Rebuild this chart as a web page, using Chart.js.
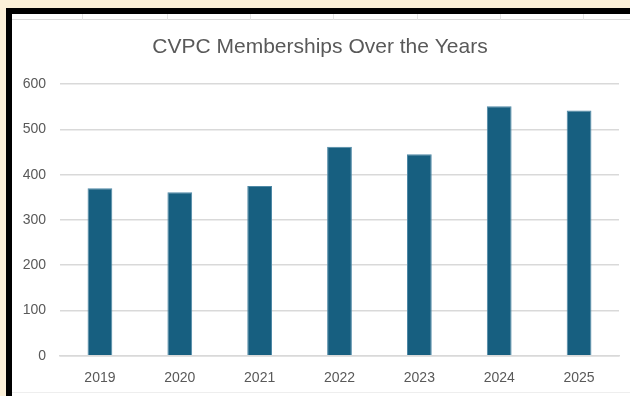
<!DOCTYPE html>
<html lang="en">
<head>
    <meta charset="UTF-8">
    <title>CVPC Memberships</title>
    <script src="https://cdn.jsdelivr.net/npm/chart.js"></script>
    <style>
        html, body {
            margin: 0;
            padding: 0;
            width: 630px;
            height: 396px;
            overflow: hidden;
            background: #fbf0d8;
        }
        .frame {
            position: absolute;
            left: 6px;
            top: 8px;
            width: 618px;
            height: 382px;
            border-left: 6px solid #000;
            border-top: 6px solid #000;
            background: #fff;
        }
        .sheet-line {
            position: absolute;
            left: 0;
            right: 0;
            top: 5px;
            height: 1px;
            background: #dcdcdc;
        }
        .sheet-col {
            position: absolute;
            top: 0;
            width: 1px;
            height: 6px;
            background: #e4e4e4;
        }
        .sheet-bottom {
            position: absolute;
            left: 0;
            right: 0;
            bottom: 3px;
            height: 1px;
            background: #eeeeee;
        }
        .graph {
            position: absolute;
            left: 0;
            top: 6px;
            width: 618px;
            height: 372px;
        }
    </style>
</head>
<body>
    <div class="frame">
        <div class="sheet-line"></div>
        <div class="sheet-col" style="left:70px"></div>
        <div class="sheet-col" style="left:155px"></div>
        <div class="sheet-col" style="left:238px"></div>
        <div class="sheet-col" style="left:321px"></div>
        <div class="sheet-col" style="left:405px"></div>
        <div class="sheet-col" style="left:488px"></div>
        <div class="sheet-col" style="left:571px"></div>
        <div class="sheet-bottom"></div>
        <div class="graph">
            <canvas id="myChartCanvas"></canvas>
        </div>
    </div>

<script>
    const anos = ['2019', '2020', '2021', '2022', '2023', '2024', '2025'];
    const membros = [370, 361, 375, 462, 445, 551, 542];
    const ticksY = [0, 100, 200, 300, 400, 500, 600];

    const cinza = '#595959';

    const config = {
        type: 'bar',
        data: {
            labels: anos,
            datasets: [{
                label: 'Memberships',
                data: membros,
                backgroundColor: '#175f80',
                borderColor: '#4f89a6',
                borderWidth: 1,
                borderSkipped: 'bottom',
                barPercentage: 0.31,
                categoryPercentage: 1
            }]
        },
        options: {
            responsive: false,
            animation: false,
            devicePixelRatio: 1,
            layout: {
                padding: { left: 9, right: 11, top: 0, bottom: 0 }
            },
            plugins: {
                legend: { display: false },
                tooltip: { enabled: false },
                title: {
                    display: true,
                    text: 'CVPC Memberships Over the Years',
                    color: cinza,
                    font: { family: 'Liberation Sans', size: 21, weight: 'normal', lineHeight: 1.2 },
                    padding: { top: 15, bottom: 24 }
                }
            },
            scales: {
                x: {
                    grid: { display: false },
                    border: { display: true, color: '#d9d9d9', width: 1.5 },
                    ticks: {
                        color: cinza,
                        font: { family: 'Liberation Sans', size: 14 },
                        padding: 6
                    },
                    afterFit: function (scale) { scale.height = 36.3; }
                },
                y: {
                    min: 0,
                    max: 600,
                    afterBuildTicks: function (scale) {
                        scale.ticks = ticksY.map(v => ({ value: v }));
                    },
                    grid: {
                        color: '#d9d9d9',
                        lineWidth: 1.5,
                        drawTicks: false
                    },
                    border: { display: false },
                    ticks: {
                        color: cinza,
                        font: { family: 'Liberation Sans', size: 14 },
                        padding: 14
                    },
                    afterFit: function (scale) { scale.width = 39; }
                }
            }
        }
    };

    const canvas = document.getElementById('myChartCanvas');
    canvas.width = 618;
    canvas.height = 372;
    new Chart(canvas, config);
</script>
</body>
</html>
